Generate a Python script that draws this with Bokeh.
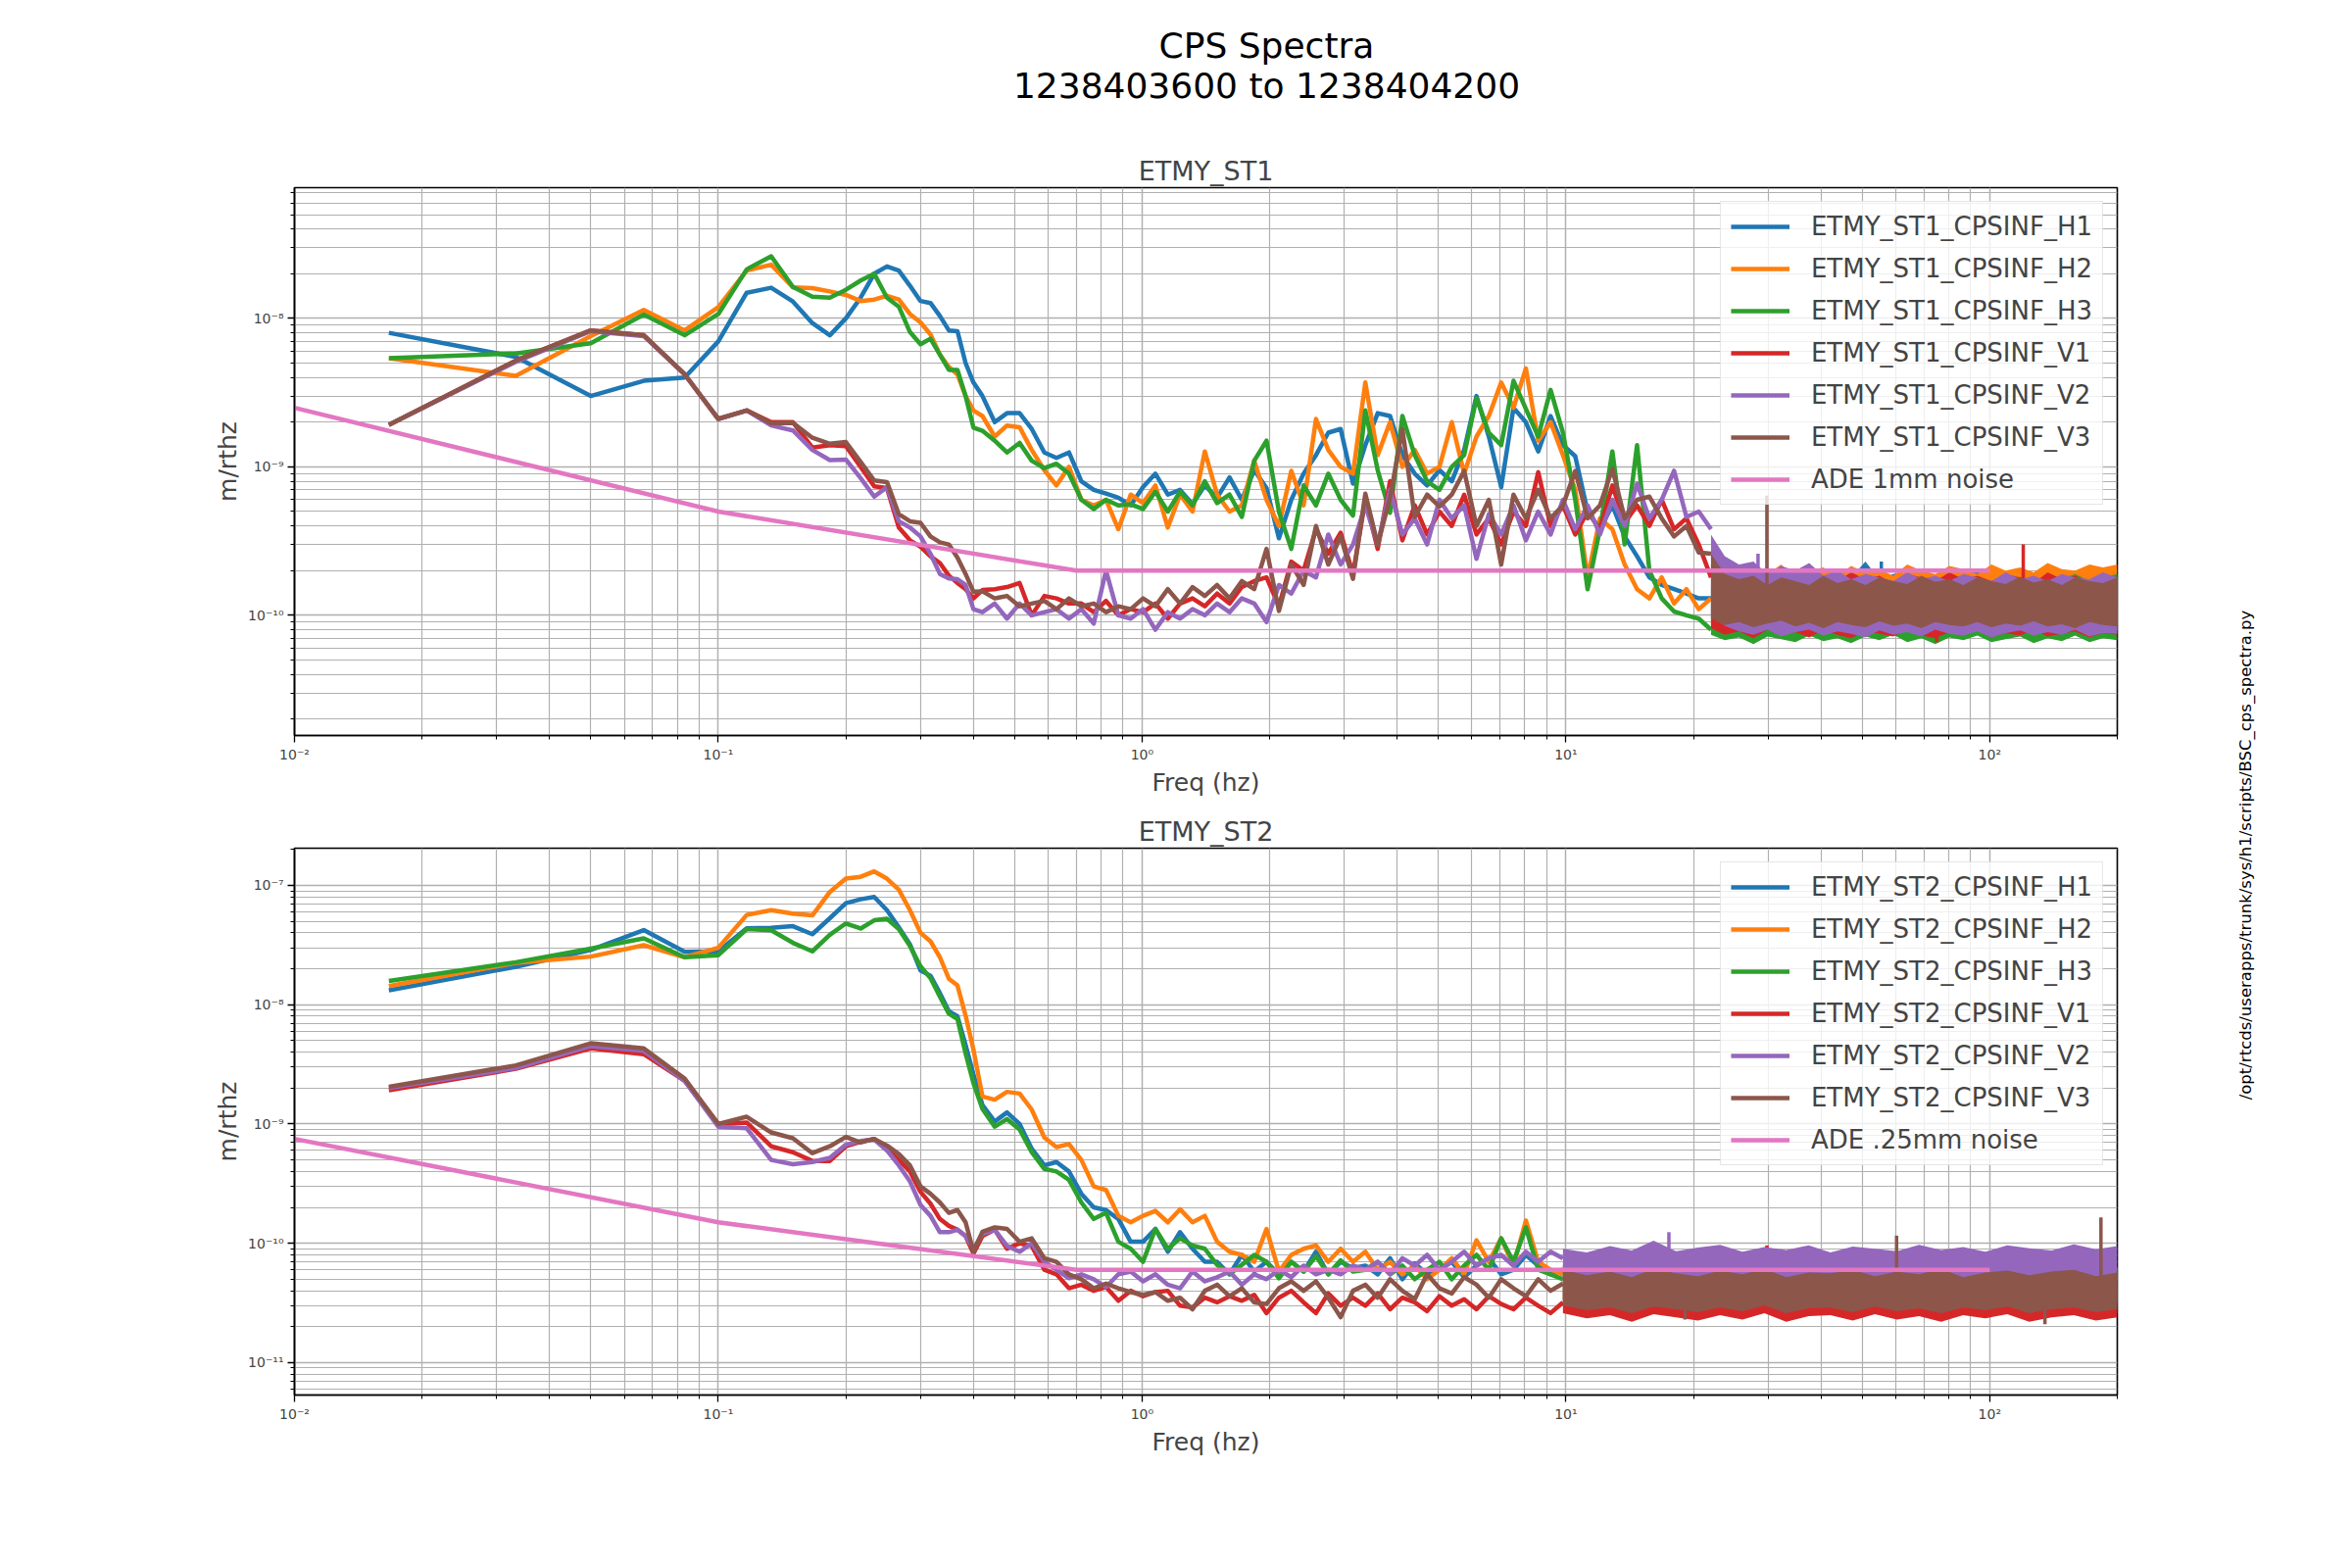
import math
from bokeh.plotting import figure
from bokeh.models import Range1d, FixedTicker
from bokeh.layouts import row, column
from bokeh.embed import file_html
from bokeh.resources import INLINE
from bokeh.core.properties import value

FONT = "DejaVu Sans"

# ---------------- texts ----------------
SUPTITLE = ["CPS Spectra", "1238403600 to 1238404200"]
SIDE_NOTE = "/opt/rtcds/userapps/trunk/sys/h1/scripts/BSC_cps_spectra.py"
X_LABEL = "Freq (hz)"
Y_LABEL = "m/rthz"
ST1_TITLE = "ETMY_ST1"
ST2_TITLE = "ETMY_ST2"
CHANNELS = ["H1", "H2", "H3", "V1", "V2", "V3"]
ST1_NAMES = ["ETMY_ST1_CPSINF_" + c for c in CHANNELS]
ST2_NAMES = ["ETMY_ST2_CPSINF_" + c for c in CHANNELS]
ST1_ADE_LABEL = "ADE 1mm noise"
ST2_ADE_LABEL = "ADE .25mm noise"
COLORS = ["#1f77b4", "#ff7f0e", "#2ca02c", "#d62728", "#9467bd", "#8c564b"]
ADE_COLOR = "#e377c2"

# ---------------- axes ----------------
X_RANGE = (0.01, 200.0)
X_TICKS = [0.01, 0.1, 1, 10, 100]
X_TICK_LABELS = ["10⁻²", "10⁻¹", "10⁰", "10¹", "10²"]
ST1_Y_RANGE = (1.55e-11, 7.6e-8)
ST1_Y_TICKS = [1e-10, 1e-9, 1e-8]
ST1_Y_TICK_LABELS = ["10⁻¹⁰", "10⁻⁹", "10⁻⁸"]
ST2_Y_RANGE = (5.35e-12, 2.05e-7)
ST2_Y_TICKS = [1e-11, 1e-10, 1e-9, 1e-8, 1e-7]
ST2_Y_TICK_LABELS = ["10⁻¹¹", "10⁻¹⁰", "10⁻⁹", "10⁻⁸", "10⁻⁷"]

# ---------------- frequency grids (Hz) ----------------
F_LO = [0.0167, 0.0333, 0.05, 0.0667, 0.0833, 0.1, 0.1167, 0.1333, 0.15, 0.1667,
        0.1833, 0.2, 0.2167, 0.2333, 0.25, 0.2667, 0.2833, 0.3, 0.3167, 0.3333,
        0.35, 0.3667, 0.3833, 0.4]
F_MID = [0.420, 0.449, 0.480, 0.514, 0.549, 0.588, 0.628, 0.672, 0.719, 0.769,
         0.822, 0.879, 0.940, 1.005, 1.075, 1.150, 1.229, 1.315, 1.406, 1.503,
         1.608, 1.719, 1.839, 1.966, 2.103, 2.249, 2.405, 2.572, 2.750, 2.941,
         3.145, 3.363, 3.597, 3.846, 4.113, 4.398, 4.704, 5.030, 5.379, 5.753,
         6.152, 6.579, 7.035, 7.523, 8.045, 8.604, 9.201, 9.839, 10.52, 11.25,
         12.03, 12.87, 13.76, 14.72, 15.74, 16.83, 18.00, 19.25, 20.58, 22.00]
F_MID_ST2 = F_MID[:48]
F_BAND_ST1 = [22, 23.7, 25.6, 27.7, 29.9, 32.2, 34.8, 37.5, 40.5, 43.7, 47.1, 50.9, 54.9,
              59.2, 63.9, 69.0, 74.4, 80.3, 86.7, 93.5, 101, 109, 118, 127, 137, 148,
              159, 172, 185, 200]
F_BAND_ST2 = [9.84, 11.2, 12.7, 14.3, 16.1, 18.2, 20.5, 23.1, 26.1, 29.4, 33.1, 37.4, 42.1,
              47.5, 53.6, 60.4, 68.1, 76.8, 86.6, 97.6, 110, 124, 140, 158, 178, 200]

# ---------------- ETMY_ST1 values (units of 1e-10 m/rthz) ----------------
ST1_UNIT = 1e-10
ST1_H1_LO = [80, 55, 30, 38, 40, 70, 149, 161, 130, 93, 77, 100, 138, 200, 224, 210, 166,
             131, 127, 104, 83, 82, 50, 37]
ST1_H1_MID = [30, 20, 23, 23, 18, 12.5, 11.5, 12.5, 8, 7, 6.6, 6.2, 5.5, 7.3, 9.0, 6.5, 7.0,
              5.6, 7.5, 6.2, 8.5, 6.0, 9.5, 7.2, 3.3, 6.0, 9.0, 12, 17, 18, 7.7, 14, 23, 22,
              12, 9, 7.5, 9.5, 8, 13, 30, 16, 7.3, 25, 20, 12.7, 22, 14, 11.8, 5, 3.8, 5.5,
              3.4, 2.5, 1.8, 1.6, 1.5, 1.4, 1.3, 1.3]
ST1_H2_LO = [54, 41, 76, 114, 83, 119, 210, 230, 162, 160, 152, 144, 131, 134, 142, 134, 107,
             94, 78, 57, 47, 42, 30, 24]
ST1_H2_MID = [22, 16, 19, 18.5, 13, 9.5, 7.5, 10, 6, 5.5, 6, 3.8, 6.5, 5.7, 7.5, 3.9, 6.5,
              5.0, 12.7, 6.5, 5, 5.5, 11, 6.0, 4.0, 9.4, 5.5, 21, 13, 10, 9, 37, 12, 20, 10,
              13, 9, 10, 20, 9, 16, 22, 37, 25, 46, 15, 20, 12, 7, 1.8, 4.5, 3.8, 2.2, 1.5,
              1.3, 1.8, 1.2, 1.5, 1.1, 1.3]
ST1_H3_LO = [54, 58, 68, 106, 77, 107, 214, 262, 163, 140, 138, 156, 180, 200, 138, 120, 81,
             67, 73, 57, 45, 45, 30, 18.4]
ST1_H3_MID = [17.5, 15, 12.5, 14.5, 11, 9.8, 10.5, 9, 6, 5.2, 6.0, 5.5, 5.6, 5.2, 6.8, 5.0,
              6.8, 5.5, 8.0, 5.7, 6.5, 4.6, 11, 15, 5.0, 2.8, 7.5, 5.5, 9.0, 6.0, 4.7, 24,
              9.5, 4.9, 22, 12, 8, 7, 10, 12, 29, 17, 14, 38, 24.6, 16, 33, 17, 6, 1.5, 3.8,
              12.7, 3.0, 14, 2.0, 1.3, 1.06, 1.0, 0.95, 0.8]
ST1_V1_LO = [19.2, 52, 83, 77, 42, 21, 24, 20, 20, 13.5, 14, 13.8, 10, 7.4, 7.2, 3.9, 3.2,
             2.9, 2.5, 2.25, 1.85, 1.65, 1.5, 1.3]
ST1_V1_MID = [1.48, 1.5, 1.55, 1.65, 1.0, 1.35, 1.3, 1.2, 1.2, 1.05, 1.25, 1.0, 1.1, 1.05,
              1.2, 0.95, 1.2, 1.3, 1.15, 1.4, 1.2, 1.55, 1.7, 1.8, 1.15, 2.3, 2.0, 3.8, 2.6,
              3.6, 1.9, 6.0, 2.8, 8.0, 3.2, 5.5, 3.5, 5.0, 4.0, 6.5, 3.5, 4.5, 3.0, 5.0, 4.0,
              9.2, 4.0, 5.5, 3.5, 5.0, 3.8, 7.5, 4.2, 5.5, 4.0, 6.0, 3.8, 4.5, 3.0, 1.8]
ST1_V2_LO = [19.2, 51, 82, 76, 42, 21, 24, 19, 17.6, 13, 11.1, 11.2, 8.4, 6.3, 7.3, 4.3, 3.9,
             3.4, 2.6, 1.9, 1.77, 1.75, 1.6, 1.1]
ST1_V2_MID = [1.05, 1.2, 0.95, 1.2, 1.0, 1.05, 1.1, 0.95, 1.1, 0.88, 2.0, 1.0, 0.95, 1.1, 0.8,
              1.05, 0.95, 1.1, 1.0, 1.2, 1.05, 1.3, 1.2, 0.9, 1.6, 1.4, 2.0, 1.8, 3.5, 2.2,
              3.0, 5.5, 3.0, 7.0, 3.5, 4.5, 3.0, 6.0, 4.5, 5.5, 2.4, 4.8, 3.5, 5.5, 3.2, 5.0,
              3.5, 6.0, 3.8, 5.5, 3.5, 6.0, 4.0, 7.7, 4.5, 6.0, 9.4, 4.6, 5.0, 3.8]
ST1_V3_LO = [19.2, 52, 83, 77, 42, 21.1, 24, 19.6, 19.8, 15.7, 14.3, 14.7, 10.8, 8.1, 7.9, 4.8,
             4.3, 4.2, 3.4, 3.1, 3.0, 2.45, 1.9, 1.44]
ST1_V3_MID = [1.45, 1.3, 1.35, 1.15, 1.2, 1.25, 1.1, 1.3, 1.15, 1.2, 1.05, 1.15, 1.1, 1.3,
              1.15, 1.5, 1.2, 1.55, 1.35, 1.6, 1.3, 1.7, 1.5, 2.8, 1.07, 2.2, 1.6, 4.0, 2.2,
              3.4, 1.76, 6.6, 3.0, 6.2, 18, 4.6, 6.5, 5.4, 6.5, 9.4, 4.0, 6.0, 2.2, 6.5, 4.5,
              7.0, 4.5, 5.5, 9.4, 4.5, 5.5, 9.7, 4.5, 6.0, 6.3, 4.5, 3.4, 4.0, 2.65, 2.6]
# dense high-frequency noise: upper / lower edge of each trace
ST1_H1_UP = [1.6, 1.9, 1.75, 1.8, 2.05, 1.7, 1.85, 1.95, 1.7, 2.0, 1.8, 2.3, 1.75, 1.9, 2.0,
             1.7, 1.85, 1.95, 1.75, 2.05, 1.8, 1.9, 2.0, 1.75, 1.9, 2.05, 1.8, 1.95, 2.1, 1.9]
ST1_H1_DN = [0.95, 0.85, 0.9, 0.8, 0.86, 0.9, 0.78, 0.88, 0.82, 0.9, 0.8, 0.86, 0.9, 0.79,
             0.85, 0.88, 0.8, 0.9, 0.84, 0.78, 0.88, 0.85, 0.8, 0.9, 0.82, 0.86, 0.79, 0.88,
             0.84, 0.8]
ST1_H2_UP = [1.5, 1.8, 2.05, 1.85, 1.9, 2.2, 1.8, 2.0, 2.1, 1.85, 2.15, 1.95, 2.05, 1.85, 2.2,
             2.0, 1.9, 2.15, 2.05, 1.9, 2.2, 2.0, 2.1, 1.95, 2.25, 2.05, 2.0, 2.2, 2.1, 2.2]
ST1_H2_DN = [0.8, 0.76, 0.82, 0.74, 0.78, 0.83, 0.75, 0.8, 0.77, 0.82, 0.74, 0.79, 0.81, 0.75,
             0.78, 0.83, 0.76, 0.8, 0.74, 0.79, 0.82, 0.76, 0.8, 0.75, 0.81, 0.78, 0.74, 0.8,
             0.77, 0.79]
ST1_H3_UP = [1.2, 1.45, 1.6, 1.4, 1.75, 1.55, 1.65, 1.8, 1.5, 1.7, 1.85, 1.6, 1.7, 1.55, 1.8,
             1.65, 1.75, 1.6, 1.85, 1.7, 1.6, 1.8, 1.7, 1.85, 1.6, 1.75, 1.9, 1.7, 1.8, 1.9]
ST1_H3_DN = [0.74, 0.68, 0.71, 0.64, 0.72, 0.69, 0.66, 0.73, 0.67, 0.7, 0.65, 0.72, 0.68, 0.74,
             0.66, 0.7, 0.64, 0.71, 0.68, 0.73, 0.66, 0.69, 0.72, 0.65, 0.7, 0.67, 0.73, 0.66,
             0.7, 0.68]
ST1_V1_UP = [2.2, 1.85, 1.9, 1.7, 1.95, 1.75, 1.65, 1.9, 1.8, 1.7, 1.95, 1.75, 1.85, 1.65, 1.9,
             1.8, 1.7, 1.95, 1.75, 1.85, 1.7, 1.9, 1.8, 1.65, 1.95, 1.75, 1.85, 1.7, 1.9, 1.8]
ST1_V1_DN = [0.82, 0.74, 0.78, 0.7, 0.8, 0.73, 0.77, 0.71, 0.79, 0.74, 0.7, 0.78, 0.75, 0.72,
             0.8, 0.73, 0.7, 0.77, 0.74, 0.79, 0.71, 0.76, 0.73, 0.8, 0.72, 0.75, 0.78, 0.71,
             0.76, 0.74]
ST1_V2_UP = [3.5, 2.5, 2.2, 2.3, 1.9, 2.15, 2.0, 2.25, 1.85, 2.0, 1.75, 1.9, 1.8, 1.7, 1.95,
             1.75, 1.85, 1.7, 1.9, 1.8, 1.7, 1.95, 1.75, 1.85, 1.7, 1.9, 1.8, 1.75, 1.95, 1.8]
ST1_V2_DN = [1.0, 0.85, 0.78, 0.74, 0.8, 0.72, 0.77, 0.8, 0.73, 0.78, 0.75, 0.71, 0.79, 0.74,
             0.77, 0.72, 0.8, 0.75, 0.73, 0.78, 0.71, 0.76, 0.79, 0.73, 0.77, 0.74, 0.8, 0.72,
             0.76, 0.75]
ST1_V3_UP = [2.6, 1.9, 1.75, 1.85, 1.6, 1.8, 1.7, 1.6, 1.85, 1.65, 1.75, 1.6, 1.8, 1.7, 1.62,
             1.85, 1.68, 1.75, 1.6, 1.8, 1.7, 1.62, 1.82, 1.66, 1.75, 1.6, 1.8, 1.7, 1.65, 1.8]
ST1_V3_DN = [0.95, 0.86, 0.9, 0.83, 0.88, 0.92, 0.84, 0.89, 0.82, 0.9, 0.86, 0.83, 0.91, 0.85,
             0.88, 0.82, 0.9, 0.86, 0.84, 0.9, 0.83, 0.88, 0.85, 0.91, 0.84, 0.87, 0.82, 0.9,
             0.86, 0.84]
# narrow lines standing out of the noise
ST1_SPK_SERIES = ["V2", "V3", "H1", "V1", "V1"]
ST1_SPK_F = [28.4, 29.8, 55.5, 75.0, 120.0]
ST1_SPK_PEAK = [2.6, 6.4, 2.3, 0.66, 3.0]
ST1_SPK_BASE = [1.5, 1.3, 1.5, 1.1, 1.3]

# ---------------- ETMY_ST2 values (units of 1e-11 m/rthz) ----------------
ST2_UNIT = 1e-11
ST2_H1_LO = [1320, 2080, 2880, 4220, 2780, 2800, 4360, 4400, 4550, 3900, 5300, 7100, 7650,
             8000, 6200, 4450, 3200, 1940, 1750, 1250, 880, 800, 460, 260]
ST2_H1_MID = [144, 105, 125, 100, 62, 45, 48, 40, 26, 20, 19, 16, 10.3, 10.3, 13.2, 8.5, 12.4,
              9, 7, 7, 5.5, 8, 5.8, 7, 5.5, 7, 5.8, 8.5, 5.5, 7, 6.2,
              6.5, 5.5, 7.5, 5.0, 6.8, 5.5, 6.0, 7.0, 5.2, 6.5, 7.5, 5.5, 6.0, 8.0, 6.5, 5.5, 6.0]
ST2_H2_LO = [1430, 2240, 2530, 3150, 2500, 3000, 5650, 6200, 5800, 5600, 8800, 11400, 11800,
             13100, 11400, 9200, 6200, 4000, 3400, 2500, 1650, 1450, 810, 420]
ST2_H2_MID = [170, 160, 186, 180, 132, 77, 64, 68, 50, 30, 28, 17, 15, 17, 18.7, 15, 19.3, 15,
              17, 10.3, 8.5, 8, 7, 13.2, 5.8, 8, 9, 9.6, 7, 9, 7,
              8.5, 6.0, 7.0, 5.5, 6.5, 5.0, 6.0, 7.5, 5.5, 10.6, 7.0, 11.0, 6.5, 15.5, 7.0, 6.0, 5.5]
ST2_H3_LO = [1580, 2270, 2950, 3600, 2500, 2600, 4300, 4200, 3300, 2800, 3850, 4800, 4350,
             5100, 5250, 4300, 3100, 2100, 1670, 1170, 840, 760, 390, 220]
ST2_H3_MID = [134, 95, 110, 90, 58, 42, 40, 34, 22, 16, 18, 10.3, 9, 7, 13.2, 9, 11, 9.6, 9,
              6.6, 5.5, 6.6, 8, 7, 5.1, 7, 5.8, 7.8, 5.5, 7.2, 5.8,
              6.0, 7.0, 5.5, 6.5, 5.0, 6.0, 7.0, 5.0, 6.5, 8.0, 6.0, 11.0, 7.0, 13.6, 6.0, 5.5, 5.0]
ST2_V1_LO = [192, 290, 430, 385, 230, 100, 103, 65, 58, 49, 49, 65, 71, 75, 62, 50, 40, 27,
             21.5, 16, 14, 13, 11.5, 8.2]
ST2_V1_MID = [11.5, 13, 9, 10, 9.5, 6, 5.5, 4.2, 4.5, 4.0, 4.3, 3.3, 4.0, 3.6, 3.9, 4.0, 3.0,
              2.9, 3.5, 3.2, 3.6, 3.3, 3.7, 2.6, 3.5, 4.0, 3.2, 2.6, 3.8, 3.0, 3.5,
              3.0, 3.8, 2.8, 3.5, 3.2, 2.7, 3.6, 3.0, 3.4, 2.8, 3.6, 3.1, 2.8, 3.5, 3.0, 2.6, 3.2]
ST2_V2_LO = [200, 295, 450, 410, 230, 95, 92, 50, 46, 48, 52, 67, 72, 74, 60, 45, 33, 21, 17,
             12.4, 12.4, 13, 11.5, 9]
ST2_V2_MID = [12, 13, 9.5, 8.5, 10, 7, 6, 5.1, 5.5, 5.0, 4.3, 5.5, 5.8, 4.8, 5.5, 4.5, 4.2,
              5.8, 4.8, 5.2, 5.8, 4.5, 5.5, 5.0, 6.0, 5.2, 6.5, 5.5, 6.0, 5.5, 6.5,
              6.0, 7.0, 5.5, 7.5, 6.5, 8.0, 6.0, 7.0, 8.5, 6.5, 7.5, 8.0, 6.5, 8.5, 7.0, 8.5, 7.5]
ST2_V3_LO = [205, 310, 475, 430, 240, 100, 115, 85, 76, 57, 65, 78, 70, 75, 66, 56, 45, 30,
             26, 22, 18, 19, 15, 8.5]
ST2_V3_MID = [12.5, 13.6, 13.2, 10.3, 11, 7.5, 7, 5.5, 5.0, 4.2, 4.6, 4.2, 3.9, 3.7, 3.9, 3.3,
              3.5, 2.8, 4.0, 4.5, 3.6, 4.2, 3.2, 3.1, 4.2, 4.8, 4.0, 4.8, 3.5, 2.4, 4.0,
              4.5, 3.5, 5.0, 4.0, 3.4, 5.5, 4.2, 3.8, 5.2, 4.5, 3.5, 5.0, 4.2, 3.6, 5.0, 4.0, 4.6]
ST2_H1_UP = [6.5, 5.8, 6.2, 5.5, 6.6, 5.9, 6.1, 5.6, 6.4, 5.8, 6.0, 6.5, 5.6, 6.2, 5.9, 6.4,
             5.5, 6.1, 6.3, 5.7, 6.0, 6.5, 5.8, 6.2, 5.6, 6.3]
ST2_H1_DN = [3.4, 3.1, 3.3, 3.0, 3.4, 3.2, 3.0, 3.3, 3.1, 3.4, 3.0, 3.2, 3.3, 3.0, 3.4, 3.1,
             3.2, 3.0, 3.3, 3.1, 3.4, 3.0, 3.2, 3.3, 3.0, 3.2]
ST2_H2_UP = [6.6, 5.9, 6.3, 5.7, 6.5, 6.0, 5.8, 6.4, 5.9, 6.6, 5.7, 6.2, 6.0, 6.5, 5.8, 6.3,
             5.9, 6.6, 5.7, 6.1, 6.4, 5.8, 6.2, 6.5, 5.9, 6.3]
ST2_H2_DN = [3.3, 3.0, 3.2, 2.9, 3.3, 3.1, 2.9, 3.2, 3.0, 3.3, 2.9, 3.1, 3.2, 2.9, 3.3, 3.0,
             3.1, 2.9, 3.2, 3.0, 3.3, 2.9, 3.1, 3.2, 2.9, 3.1]
ST2_H3_UP = [6.2, 5.6, 5.9, 5.3, 6.1, 5.7, 5.5, 6.0, 5.6, 6.2, 5.4, 5.9, 5.7, 6.1, 5.5, 6.0,
             5.6, 6.2, 5.4, 5.8, 6.1, 5.5, 5.9, 6.2, 5.6, 6.0]
ST2_H3_DN = [3.0, 2.7, 2.9, 2.6, 3.0, 2.8, 2.6, 2.9, 2.7, 3.0, 2.6, 2.8, 2.9, 2.6, 3.0, 2.7,
             2.8, 2.6, 2.9, 2.7, 2.8, 2.5, 2.7, 2.6, 2.5, 2.6]
ST2_V1_UP = [5.4, 4.8, 5.1, 4.6, 5.3, 4.9, 4.7, 5.2, 4.8, 5.4, 4.6, 5.0, 4.9, 5.3, 4.7, 5.1,
             4.8, 5.4, 4.6, 5.0, 5.2, 4.7, 5.1, 5.3, 4.8, 5.0]
ST2_V1_DN = [2.6, 2.35, 2.5, 2.2, 2.55, 2.4, 2.25, 2.5, 2.3, 2.6, 2.2, 2.45, 2.5, 2.25, 2.55,
             2.3, 2.45, 2.2, 2.5, 2.35, 2.55, 2.2, 2.4, 2.5, 2.25, 2.4]
ST2_V2_UP = [9.0, 8.4, 9.5, 8.7, 10.5, 8.6, 9.2, 9.7, 8.5, 9.3, 8.8, 9.6, 8.4, 9.4, 9.0, 8.6,
             9.7, 8.8, 9.3, 8.5, 9.6, 9.1, 8.7, 9.8, 8.9, 9.5]
ST2_V2_DN = [4.8, 5.1, 4.9, 5.2, 5.0, 4.8, 5.1, 4.9, 5.2, 5.0, 4.8, 5.1, 5.0, 4.9, 5.2, 4.8,
             5.0, 5.1, 4.9, 5.2, 4.8, 5.0, 5.1, 4.9, 5.2, 5.0]
ST2_V3_UP = [6.0, 5.4, 5.8, 5.2, 6.1, 5.6, 5.3, 5.9, 5.5, 6.1, 5.2, 5.7, 5.6, 6.0, 5.3, 5.8,
             5.5, 6.1, 5.2, 5.7, 5.9, 5.4, 5.8, 6.0, 5.3, 5.7]
ST2_V3_DN = [3.0, 2.75, 2.9, 2.6, 2.95, 2.8, 2.65, 2.9, 2.7, 3.0, 2.6, 2.85, 2.9, 2.65, 2.95,
             2.7, 2.85, 2.6, 2.9, 2.75, 2.95, 2.6, 2.8, 2.9, 2.65, 2.8]
ST2_SPK_SERIES = ["V2", "V1", "V3", "V3", "V3", "V3"]
ST2_SPK_F = [17.5, 29.8, 60.3, 183.0, 19.1, 135.0]
ST2_SPK_PEAK = [12.4, 9.6, 11.6, 16.5, 2.3, 2.1]
ST2_SPK_BASE = [7.0, 4.0, 4.5, 4.5, 3.5, 3.5]

# ---------------- ADE noise reference curves ----------------
ADE_F = [0.01, 0.1, 0.7, 100.0]
ADE_ST1 = [2.5e-9, 5.0e-10, 2.0e-10, 2.0e-10]
ADE_ST2 = [7.5e-10, 1.5e-10, 6.0e-11, 6.0e-11]

LINE_W = 4.5


def minor_ticks(decades):
    return [m * 10.0 ** e for e in decades for m in range(2, 10)]


X_MINOR = minor_ticks(range(-2, 3))


def make_panel(title, names, los, mids, f_mid, ups, dns, f_band, spk, unit,
               ade_y, ade_label, y_range, y_ticks, y_labels, y_decades,
               height, b_top, b_bottom):
    p = figure(width=2250, height=height, x_axis_type="log", y_axis_type="log",
               x_range=Range1d(*X_RANGE), y_range=Range1d(*y_range),
               output_backend="svg", toolbar_location=None, title=title,
               min_border_left=300, min_border_right=90,
               min_border_top=b_top, min_border_bottom=b_bottom,
               background_fill_color="white", border_fill_color="white")
    p.title.align = "center"
    p.title.text_font = FONT
    p.title.text_font_size = "27px"
    p.title.text_font_style = "normal"
    p.title.standoff = 3

    p.outline_line_color = "black"
    p.outline_line_width = 1.6

    p.xaxis.ticker = FixedTicker(ticks=X_TICKS, minor_ticks=X_MINOR)
    p.yaxis.ticker = FixedTicker(ticks=y_ticks, minor_ticks=minor_ticks(y_decades))
    p.xaxis.major_label_overrides = dict(zip(X_TICKS, X_TICK_LABELS))
    p.yaxis.major_label_overrides = dict(zip(y_ticks, y_labels))
    p.xaxis.axis_label = X_LABEL
    p.yaxis.axis_label = Y_LABEL
    for ax in (p.xaxis, p.yaxis):
        ax.axis_label_text_font = FONT
        ax.axis_label_text_font_size = "25px"
        ax.axis_label_text_font_style = "normal"
        ax.axis_label_standoff = 3
        ax.major_label_text_font = FONT
        ax.major_label_text_font_size = "14px"
        ax.major_label_standoff = 4
        ax.axis_line_color = "black"
        ax.axis_line_width = 1.6
        ax.major_tick_line_color = "black"
        ax.major_tick_line_width = 1.3
        ax.major_tick_in = 0
        ax.major_tick_out = 7
        ax.minor_tick_line_color = "black"
        ax.minor_tick_line_width = 1.0
        ax.minor_tick_in = 0
        ax.minor_tick_out = 4

    p.grid.grid_line_color = "#b0b0b0"
    p.grid.grid_line_width = 1.5
    p.grid.minor_grid_line_color = "#b0b0b0"
    p.grid.minor_grid_line_width = 1.2

    for i, ch in enumerate(CHANNELS):
        c = COLORS[i]
        xs = F_LO + f_mid
        ys = [v * unit for v in los[i] + mids[i]]
        p.line(xs, ys, line_width=LINE_W, color=c, line_join="round", legend_label=names[i])
        p.varea(x=f_band, y1=[v * unit for v in dns[i]], y2=[v * unit for v in ups[i]],
                fill_color=c, fill_alpha=1.0)
        sel = [k for k, s in enumerate(spk[0]) if s == ch]
        if sel:
            fx = [spk[1][k] for k in sel]
            p.segment(x0=fx, y0=[spk[3][k] * unit for k in sel],
                      x1=fx, y1=[spk[2][k] * unit for k in sel],
                      line_width=3.5, color=c)

    p.line(ADE_F, ade_y, line_width=LINE_W, color=ADE_COLOR, legend_label=ade_label)

    lg = p.legend[0]
    lg.location = "top_right"
    lg.margin = 14
    lg.padding = 10
    lg.spacing = 13
    lg.label_height = 30
    lg.glyph_height = 30
    lg.glyph_width = 60
    lg.label_standoff = 22
    lg.label_text_font = FONT
    lg.label_text_font_size = "26px"
    lg.border_line_color = "#cccccc"
    lg.border_line_width = 1.5
    lg.background_fill_color = "white"
    lg.background_fill_alpha = 0.8
    return p


top = make_panel(ST1_TITLE, ST1_NAMES,
                 [ST1_H1_LO, ST1_H2_LO, ST1_H3_LO, ST1_V1_LO, ST1_V2_LO, ST1_V3_LO],
                 [ST1_H1_MID, ST1_H2_MID, ST1_H3_MID, ST1_V1_MID, ST1_V2_MID, ST1_V3_MID],
                 F_MID,
                 [ST1_H1_UP, ST1_H2_UP, ST1_H3_UP, ST1_V1_UP, ST1_V2_UP, ST1_V3_UP],
                 [ST1_H1_DN, ST1_H2_DN, ST1_H3_DN, ST1_V1_DN, ST1_V2_DN, ST1_V3_DN],
                 F_BAND_ST1,
                 (ST1_SPK_SERIES, ST1_SPK_F, ST1_SPK_PEAK, ST1_SPK_BASE),
                 ST1_UNIT, ADE_ST1, ST1_ADE_LABEL, ST1_Y_RANGE, ST1_Y_TICKS,
                 ST1_Y_TICK_LABELS, range(-11, -7), 682, 53, 70)

bot = make_panel(ST2_TITLE, ST2_NAMES,
                 [ST2_H1_LO, ST2_H2_LO, ST2_H3_LO, ST2_V1_LO, ST2_V2_LO, ST2_V3_LO],
                 [ST2_H1_MID, ST2_H2_MID, ST2_H3_MID, ST2_V1_MID, ST2_V2_MID, ST2_V3_MID],
                 F_MID_ST2,
                 [ST2_H1_UP, ST2_H2_UP, ST2_H3_UP, ST2_V1_UP, ST2_V2_UP, ST2_V3_UP],
                 [ST2_H1_DN, ST2_H2_DN, ST2_H3_DN, ST2_V1_DN, ST2_V2_DN, ST2_V3_DN],
                 F_BAND_ST2,
                 (ST2_SPK_SERIES, ST2_SPK_F, ST2_SPK_PEAK, ST2_SPK_BASE),
                 ST2_UNIT, ADE_ST2, ST2_ADE_LABEL, ST2_Y_RANGE, ST2_Y_TICKS,
                 ST2_Y_TICK_LABELS, range(-12, -6), 760, 45, 157)

# ---------------- super title ----------------
head = figure(width=2250, height=138, x_range=Range1d(0, 2250), y_range=Range1d(0, 138),
              x_axis_location=None, y_axis_location=None, toolbar_location=None,
              output_backend="svg", min_border=0, title=None)
head.outline_line_color = None
head.grid.visible = False
head.text(x=[1200, 1200], y=[92, 51], text=SUPTITLE, text_font=value(FONT),
          text_font_size="36px", text_align="center", text_baseline="middle",
          text_color="black")

# ---------------- script path at the right edge ----------------
side = figure(width=150, height=1580, x_range=Range1d(0, 150), y_range=Range1d(0, 1580),
              x_axis_location=None, y_axis_location=None, toolbar_location=None,
              output_backend="svg", min_border=0, title=None)
side.outline_line_color = None
side.grid.visible = False
side.text(x=[41], y=[708], text=[SIDE_NOTE], angle=math.pi / 2, text_font=value(FONT),
          text_font_size="16.5px", text_align="center", text_baseline="middle",
          text_color="black")

layout = row(column(head, top, bot), side)

with open("out.html", "w") as fh:
    fh.write(file_html(layout, INLINE))
